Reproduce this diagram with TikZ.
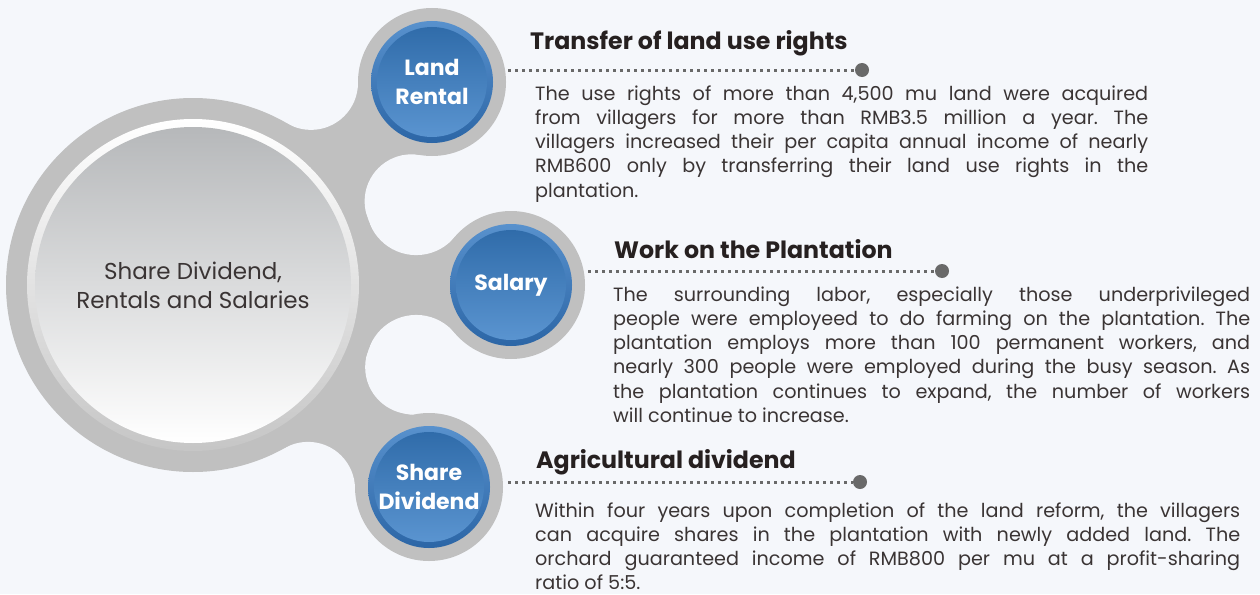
\documentclass[tikz,border=0pt]{standalone}
\usepackage{fontspec}
\setmainfont{Poppins}
\usetikzlibrary{intersections}

\definecolor{skybg}{RGB}{245,247,251}
\definecolor{ringgray}{RGB}{192,192,192}
\definecolor{dotgray}{RGB}{105,105,105}
\definecolor{textgray}{RGB}{58,52,52}
\definecolor{titlegray}{RGB}{38,32,32}
\definecolor{rimlight}{RGB}{88,145,205}
\definecolor{rimdark}{RGB}{44,102,166}
\definecolor{facetop}{RGB}{48,108,170}
\definecolor{facebottom}{RGB}{90,148,208}

\tikzset{
  ring/.style={fill=ringgray},
  cutout/.style={fill=skybg},
  bubble label/.style={text=white, align=center, font=\bfseries\fontsize{22}{29}\selectfont},
  item title/.style={anchor=base west, inner sep=0pt, text=titlegray, font=\bfseries\fontsize{23.7}{28}\selectfont},
  item text/.style={anchor=base west, inner sep=0pt, text=textgray, align=justify,
    font=\fontsize{19.2}{24.3}\selectfont\frenchspacing},
  leader/.style={dotgray, line width=3pt, dash pattern=on 3pt off 4pt},
  enddot/.style={circle, fill=dotgray, inner sep=0pt, minimum size=14pt},
}

\begin{document}
\begin{tikzpicture}[x=1pt, y=-1pt]
    \useasboundingbox (0,0) rectangle (1260,594);
    \fill[skybg] (0,0) rectangle (1260,594);

    % centre of the big ring
    \coordinate (hub) at (193,285);

    % necks between the big ring and the three bubbles
    \foreach \name/\cx/\cy/\rn in {land/432/82/47, salary/511/285/50, share/429/487/47} {
        \coordinate (\name) at (\cx,\cy);
        \path[name path=bigc] (hub) circle[radius=187+\rn];
        \path[name path=smallc] (\name) circle[radius=74+\rn];
        \path[name intersections={of=bigc and smallc, by={\name-a,\name-b}}];
        \fill[ring] (hub) -- (\name-a) -- (\name) -- (\name-b) -- cycle;
    }
    \foreach \name/\rn in {land/47, salary/50, share/47} {
        \fill[cutout] (\name-a) circle[radius=\rn];
        \fill[cutout] (\name-b) circle[radius=\rn];
    }

    % big ring
    \fill[ring] (hub) circle[radius=187];
    \shade[top color=white, bottom color=gray!45] (hub) circle[radius=166];
    \shade[top color={rgb,255:red,182;green,184;blue,186}, bottom color=white] (hub) circle[radius=158];
    \node[align=center, text=textgray, font=\fontsize{23}{29}\selectfont] (hubtext) at (hub)
        {Share Dividend,\\Rentals and Salaries};

    % bubbles
    \foreach \name in {land, salary, share} {
        \fill[ring] (\name) circle[radius=74];
        \shade[top color=rimlight, bottom color=rimdark] (\name) circle[radius=61];
        \shade[top color=facetop, bottom color=facebottom] (\name) circle[radius=55];
    }
    \node[bubble label] (landtext) at (land) {Land\\Rental};
    \node[bubble label] (salarytext) at (salary) {Salary};
    \node[bubble label] (sharetext) at (share) {Share\\Dividend};

    % Transfer of land use rights
    \node[item title] (t1) at (530,50) {Transfer of land use rights};
    \coordinate (l1) at (508,70);
    \node[enddot] (e1) at (862,70) {};
    \draw[leader] (l1) -- (e1);
    \node[item text, text width=613pt] (p1) at (535,100)
        {The use rights of more than 4,500 mu land were acquired\linebreak
         from villagers for more than RMB3.5 million a year. The\linebreak
         villagers increased their per capita annual income of nearly\linebreak
         RMB600 only by transferring their land use rights in the\linebreak
         plantation.};

    % Work on the Plantation
    \node[item title] (t2) at (614,258) {Work on the Plantation};
    \coordinate (l2) at (588,271);
    \node[enddot] (e2) at (942,271) {};
    \draw[leader] (l2) -- (e2);
    \node[item text, text width=637pt] (p2) at (613,301)
        {The surrounding labor, especially those underprivileged\linebreak
         people were employeed to do farming on the plantation. The\linebreak
         plantation employs more than 100 permanent workers, and\linebreak
         nearly 300 people were employed during the busy season. As\linebreak
         the plantation continues to expand, the number of workers\linebreak
         will continue to increase.};

    % Agricultural dividend
    \node[item title] (t3) at (536,468) {Agricultural dividend};
    \coordinate (l3) at (508,482);
    \node[enddot] (e3) at (860,482) {};
    \draw[leader] (l3) -- (e3);
    \node[item text, text width=705pt] (p3) at (535,517)
        {Within four years upon completion of the land reform, the villagers\linebreak
         can acquire shares in the plantation with newly added land. The\linebreak
         orchard guaranteed income of RMB800 per mu at a profit-sharing\linebreak
         ratio of 5:5.};
\end{tikzpicture}
\end{document}
